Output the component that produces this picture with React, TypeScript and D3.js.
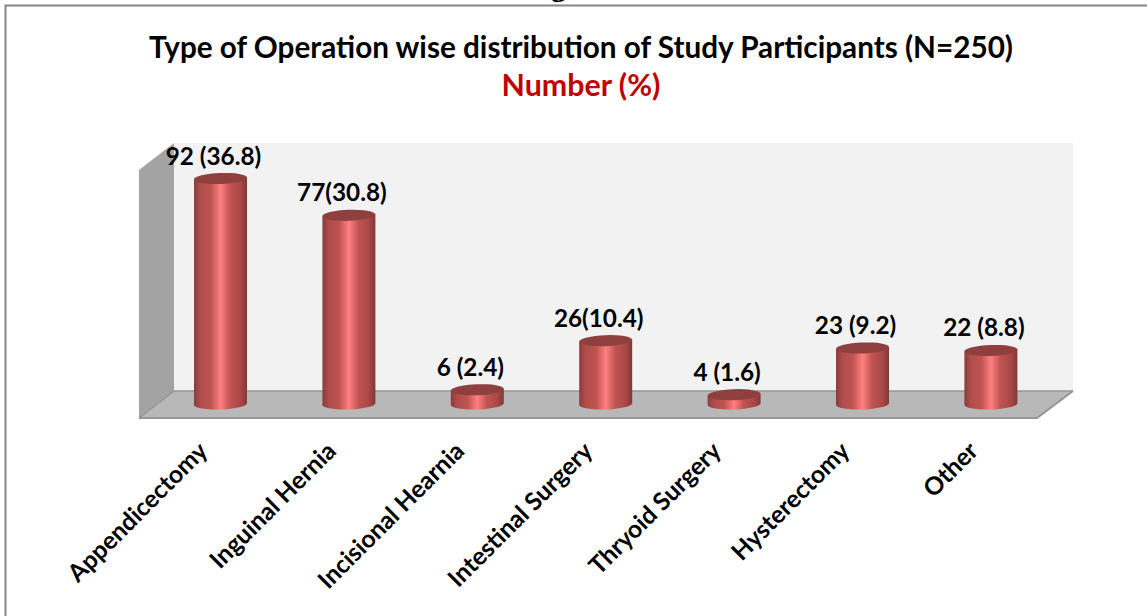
import React from 'react'
import * as d3 from 'd3'

const categories = ['Appendicectomy', 'Inguinal Hernia', 'Incisional Hearnia', 'Intestinal Surgery', 'Thryoid Surgery', 'Hysterectomy', 'Other']
const counts = [92, 77, 6, 26, 4, 23, 22]
const valueLabels = ['92 (36.8)', '77(30.8)', '6 (2.4)', '26(10.4)', '4 (1.6)', '23 (9.2)', '22 (8.8)']

const font = 'Lato, "Open Sans", sans-serif'

const x = d3.scaleBand<string>().domain(categories).range([156.3, 1055.1])
const y = d3.scaleLinear().domain([0, 92]).range([404.5, 178.5])

// 3d box of the chart
const wall = { left: 174, right: 1073, top: 143, bottom: 391 }
const front = { left: 139, right: 1037, top: 170, bottom: 418 }
const line = d3.line()

const barHalf = 26.5
const ry = 5.5

export default function App() {
  return (
    <svg width={1147} height={616} style={{ position: 'absolute', left: 0, top: 0 }}>
      <defs>
        <linearGradient id="cyl" x1="0" x2="1" y1="0" y2="0">
          <stop offset="0" stopColor="#8a3d3b" />
          <stop offset="0.12" stopColor="#b04c4a" />
          <stop offset="0.32" stopColor="#bf5452" />
          <stop offset="0.5" stopColor="#ff8080" />
          <stop offset="0.68" stopColor="#bf5452" />
          <stop offset="0.88" stopColor="#a84846" />
          <stop offset="1" stopColor="#803836" />
        </linearGradient>
      </defs>

      <rect width={1147} height={616} fill="#fff" />
      <path d="M5.5,616V5.5H1147" fill="none" stroke="#868686" strokeWidth={2} />
      <text x={551} y={-4} fontFamily="Liberation Serif, serif" fontWeight="bold" fontSize={30} fill="#000">g</text>

      <text x={581} y={58} textAnchor="middle" fontFamily={font} fontWeight="bold" fontSize={29.7} fill="#000">
        Type of Operation wise distribution of Study Participants (N=250)
      </text>
      <text x={581} y={96} textAnchor="middle" fontFamily={font} fontWeight="bold" fontSize={30.4} fill="#c00000">
        Number (%)
      </text>

      <rect x={wall.left} y={wall.top} width={wall.right - wall.left} height={wall.bottom - wall.top} fill="#f2f2f2" />
      <path
        d={line([[front.left, front.top], [wall.left, wall.top], [wall.left, wall.bottom], [front.left, front.bottom]]) + 'Z'}
        fill="#a3a3a3"
      />
      <path
        d={line([[front.left, front.bottom], [wall.left, wall.bottom], [wall.right, wall.bottom], [front.right, front.bottom]]) + 'Z'}
        fill="#b8b8b8"
      />
      <path
        d={line([[front.left, front.bottom], [wall.left, wall.bottom], [wall.right, wall.bottom]]) ?? ''}
        fill="none"
        stroke="#959595"
        strokeWidth={1.5}
      />
      <path d={line([[front.left, front.bottom], [front.right, front.bottom], [wall.right, wall.bottom]]) ?? ''} fill="none" stroke="#959595" strokeWidth={2} />

      {categories.map((c, i) => {
        const cx = x(c)! + x.bandwidth() / 2
        const top = y(counts[i])
        const base = y(0)
        const body = `M${cx - barHalf},${top + 1}L${cx - barHalf},${base}A${barHalf},${ry} -2 0 0 ${cx + barHalf},${base - 1}L${cx + barHalf},${top - 1}Z`
        return (
          <g key={c}>
            <path d={body} fill="url(#cyl)" />
            <ellipse cx={cx} cy={top} rx={barHalf} ry={ry} fill="#8f3f3e" transform={`rotate(-2 ${cx} ${top})`} />
            <text x={cx - 7} y={top - 14} textAnchor="middle" fontFamily={font} fontWeight="bold" fontSize={24.3} fill="#000">
              {valueLabels[i]}
            </text>
            <text
              transform={`translate(${cx - 25},439) rotate(-45)`}
              textAnchor="end"
              dominantBaseline="hanging"
              fontFamily={font}
              fontWeight="bold"
              fontSize={24.6}
              fill="#000"
            >
              {c}
            </text>
          </g>
        )
      })}
    </svg>
  )
}
